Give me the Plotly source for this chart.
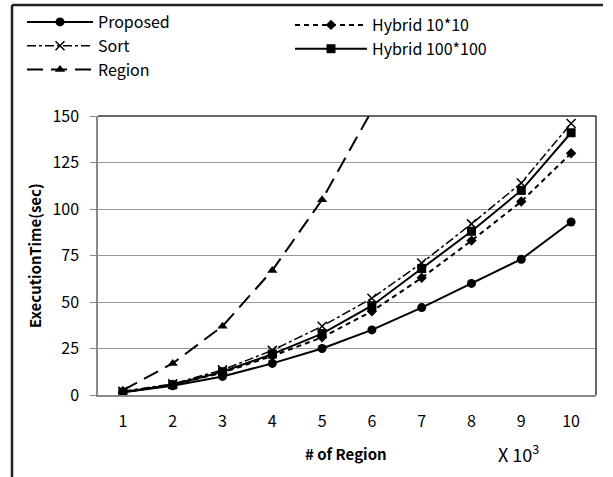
import plotly.graph_objects as go

x_regions = [1, 2, 3, 4, 5, 6, 7, 8, 9, 10]
proposed = [1.5, 5, 10, 17, 25, 35, 47, 60, 73, 93]
sort_vals = [2, 6, 13.5, 24, 37, 52, 71, 92, 114, 146]
region_x = [1, 2, 3, 4, 5, 6]
region_vals = [2.5, 17, 37, 67, 105, 153]
hybrid10 = [1.5, 5.5, 12, 21, 31, 45, 63, 83, 104, 130]
hybrid100 = [1.5, 5.5, 12.5, 22, 33, 48, 68, 88, 110, 141]
y_ticks = [0, 25, 50, 75, 100, 125, 150]

FONT = "Noto Sans CJK KR"
W, H = 613, 477
L, R, T, B = 98, 17, 116, 82

fig = go.Figure()
fig.add_trace(go.Scatter(x=x_regions, y=proposed, name="Proposed", mode="lines+markers",
                         line=dict(color="black", width=2),
                         marker=dict(symbol="circle", size=9, color="black"), legend="legend"))
fig.add_trace(go.Scatter(x=x_regions, y=sort_vals, name="Sort", mode="lines+markers",
                         line=dict(color="black", width=1.5, dash="dashdot"),
                         marker=dict(symbol="x-thin", size=9, line=dict(color="black", width=1.5)),
                         legend="legend"))
fig.add_trace(go.Scatter(x=region_x, y=region_vals, name="Region", mode="lines+markers",
                         line=dict(color="black", width=2, dash="16px,8px"),
                         marker=dict(symbol="triangle-up", size=9, color="black"), legend="legend"))
fig.add_trace(go.Scatter(x=x_regions, y=hybrid10, name="Hybrid 10*10", mode="lines+markers",
                         line=dict(color="black", width=2, dash="5px,4px"),
                         marker=dict(symbol="diamond", size=8, color="black"), legend="legend2"))
fig.add_trace(go.Scatter(x=x_regions, y=hybrid100, name="Hybrid 100*100", mode="lines+markers",
                         line=dict(color="black", width=2),
                         marker=dict(symbol="square", size=9, color="black"), legend="legend2"))

# plot area top/right borders
fig.add_shape(type="line", xref="paper", yref="paper", x0=0, x1=1, y0=1, y1=1,
              line=dict(color="#333", width=1.5))
fig.add_shape(type="line", xref="paper", yref="paper", x0=1, x1=1, y0=0, y1=1,
              line=dict(color="#333", width=1.5))
# outer frame (top and left edges visible)
pw, ph = W - L - R, H - T - B
def px2x(px):
    return (px - L) / pw
def py2y(py):
    return (H - B - py) / ph
fig.add_shape(type="line", xref="paper", yref="paper", layer="above",
              x0=px2x(12), x1=px2x(603), y0=py2y(5), y1=py2y(5),
              line=dict(color="#222", width=2.5))
fig.add_shape(type="line", xref="paper", yref="paper", layer="above",
              x0=px2x(12), x1=px2x(12), y0=py2y(5), y1=py2y(490),
              line=dict(color="#222", width=2.5))

fig.add_annotation(text="X 10<sup>3</sup>", xref="paper", yref="paper",
                   x=px2x(518), y=py2y(453), showarrow=False, xanchor="center", yanchor="middle",
                   font=dict(family=FONT, size=18, color="black"))
fig.add_annotation(text="<b># of Region</b>", xref="paper", yref="paper",
                   x=px2x(346), y=py2y(453), showarrow=False, xanchor="center", yanchor="middle",
                   font=dict(family=FONT, size=15, color="black"))
fig.add_annotation(text="<b>ExecutionTime(sec)</b>", xref="paper", yref="paper",
                   x=px2x(34), y=py2y(256), showarrow=False, textangle=-90,
                   xanchor="center", yanchor="middle",
                   font=dict(family=FONT, size=15, color="black"))

fig.update_layout(
    width=W, height=H,
    margin=dict(l=L, r=R, t=T, b=B, autoexpand=False),
    paper_bgcolor="white", plot_bgcolor="white",
    font=dict(family=FONT, size=15, color="black"),
    xaxis=dict(range=[0.5, 10.5], tickvals=x_regions, ticks="", showgrid=False,
               showline=True, linecolor="#888", linewidth=1.5, zeroline=False,
               tickfont=dict(size=16), automargin=False, ticklabelstandoff=11),
    yaxis=dict(range=[0, 150], tickvals=y_ticks, ticks="outside", ticklen=6, tickcolor="#888",
               showgrid=True, gridcolor="#999", gridwidth=1, showline=True, linecolor="#888",
               linewidth=1.5, zeroline=False, tickfont=dict(size=16), automargin=False,
               ticklabelstandoff=8),
    legend=dict(xref="container", yref="container", x=22 / W, y=1 - 5 / H,
                xanchor="left", yanchor="top", bgcolor="rgba(0,0,0,0)",
                font=dict(family=FONT, size=16), itemwidth=66, tracegroupgap=0),
    legend2=dict(xref="container", yref="container", x=290 / W, y=1 - 8 / H,
                 xanchor="left", yanchor="top", bgcolor="rgba(0,0,0,0)",
                 font=dict(family=FONT, size=16), itemwidth=72, tracegroupgap=0),
)

fig.write_html("out.html", config={"displayModeBar": False},
               post_script="document.body.style.margin='0';document.body.style.overflow='hidden';")
